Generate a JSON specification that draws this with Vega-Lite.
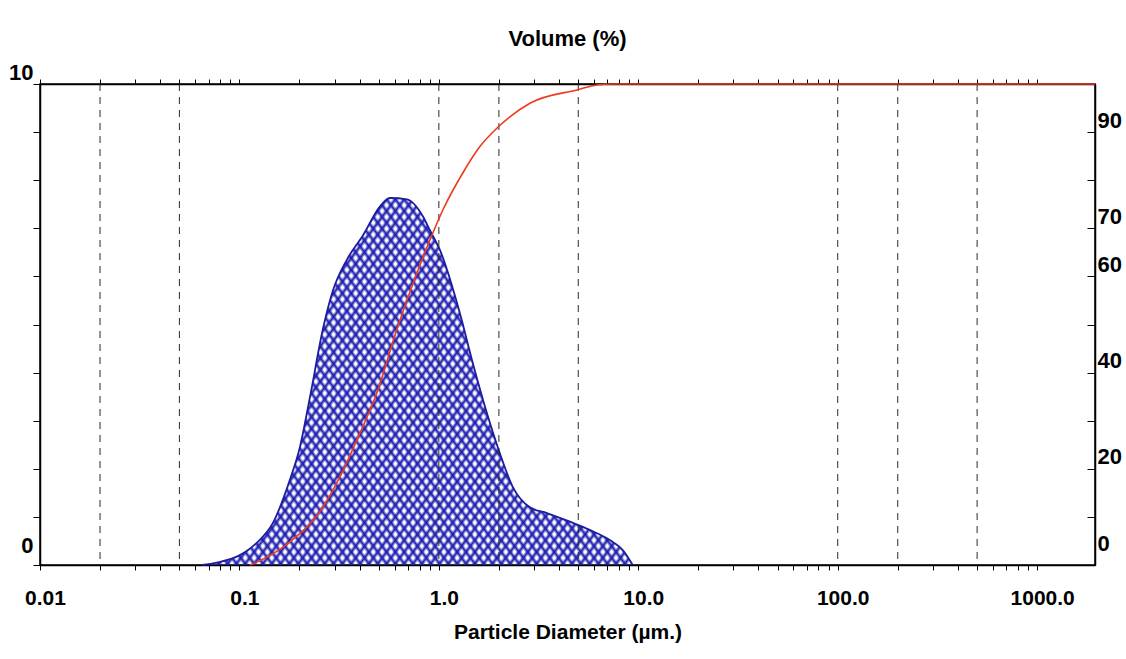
{
  "$schema": "https://vega.github.io/schema/vega-lite/v6.json",
  "width": 1055,
  "height": 481,
  "autosize": {"type": "none"},
  "padding": {"left": 40, "top": 84, "right": 31, "bottom": 94},
  "background": "white",
  "config": {
    "view": {"stroke": "black", "strokeWidth": 1.5},
    "font": "Liberation Sans",
    "axis": {"labelFont": "Liberation Sans", "titleFont": "Liberation Sans", "labelColor": "black", "titleColor": "black", "domainColor": "black", "tickColor": "black", "grid": false}
  },
  "title": {"text": "Volume (%)", "fontSize": 22, "fontWeight": "bold", "font": "Liberation Sans", "color": "black", "offset": 10},
  "datasets": {
    "dist": [
      {"d": 0.065, "v": 0}, {"d": 0.077, "v": 0.05}, {"d": 0.1, "v": 0.2}, {"d": 0.122, "v": 0.46},
      {"d": 0.147, "v": 0.87}, {"d": 0.179, "v": 1.77}, {"d": 0.201, "v": 2.45}, {"d": 0.226, "v": 3.5},
      {"d": 0.262, "v": 4.9}, {"d": 0.294, "v": 5.7}, {"d": 0.346, "v": 6.35}, {"d": 0.416, "v": 6.85},
      {"d": 0.506, "v": 7.45}, {"d": 0.568, "v": 7.63}, {"d": 0.692, "v": 7.6}, {"d": 0.831, "v": 7.25},
      {"d": 0.902, "v": 6.96}, {"d": 1.012, "v": 6.55}, {"d": 1.274, "v": 5.24}, {"d": 1.479, "v": 4.2},
      {"d": 1.741, "v": 3.16}, {"d": 2.02, "v": 2.33}, {"d": 2.35, "v": 1.62}, {"d": 2.86, "v": 1.2},
      {"d": 3.48, "v": 1.08}, {"d": 4.54, "v": 0.9}, {"d": 5.71, "v": 0.73}, {"d": 7.45, "v": 0.48},
      {"d": 8.36, "v": 0.31}, {"d": 9.06, "v": 0.1}, {"d": 9.38, "v": 0}
    ],
    "cum": [
      {"d": 0.113, "c": 0}, {"d": 0.1224, "c": 0.6}, {"d": 0.179, "c": 4.8}, {"d": 0.262, "c": 12},
      {"d": 0.319, "c": 18.3}, {"d": 0.388, "c": 26}, {"d": 0.489, "c": 35.8}, {"d": 0.615, "c": 48.9},
      {"d": 0.776, "c": 60.7}, {"d": 0.977, "c": 71}, {"d": 1.047, "c": 73.8}, {"d": 1.318, "c": 81.5},
      {"d": 1.606, "c": 87}, {"d": 1.977, "c": 91}, {"d": 2.86, "c": 96}, {"d": 4.97, "c": 98.8},
      {"d": 6.19, "c": 99.8}, {"d": 7.45, "c": 100}, {"d": 1950, "c": 100}
    ],
    "grid": [{"d": 0.02}, {"d": 0.05}, {"d": 1}, {"d": 2}, {"d": 5}, {"d": 100}, {"d": 200}, {"d": 500}]
  },
  "resolve": {"scale": {"y": "independent"}, "axis": {"x": "independent", "y": "independent"}},
  "layer": [
    {
      "data": {"name": "dist"},
      "mark": {"type": "area", "interpolate": "monotone", "fill": {"gradient": "linear", "x1": 0, "y1": 0, "x2": 1.1635, "y2": 0.7446, "stops": [
        {"offset":0,"color":"#1c1cb0"},{"offset":0.0045,"color":"rgba(28,28,176,0)"},{"offset":0.008,"color":"rgba(28,28,176,0)"},
        {"offset":0.0125,"color":"#1c1cb0"},{"offset":0.017,"color":"rgba(28,28,176,0)"},{"offset":0.0205,"color":"rgba(28,28,176,0)"},
        {"offset":0.025,"color":"#1c1cb0"},{"offset":0.0295,"color":"rgba(28,28,176,0)"},{"offset":0.033,"color":"rgba(28,28,176,0)"},
        {"offset":0.0375,"color":"#1c1cb0"},{"offset":0.042,"color":"rgba(28,28,176,0)"},{"offset":0.0455,"color":"rgba(28,28,176,0)"},
        {"offset":0.05,"color":"#1c1cb0"},{"offset":0.0545,"color":"rgba(28,28,176,0)"},{"offset":0.058,"color":"rgba(28,28,176,0)"},
        {"offset":0.0625,"color":"#1c1cb0"},{"offset":0.067,"color":"rgba(28,28,176,0)"},{"offset":0.0705,"color":"rgba(28,28,176,0)"},
        {"offset":0.075,"color":"#1c1cb0"},{"offset":0.0795,"color":"rgba(28,28,176,0)"},{"offset":0.083,"color":"rgba(28,28,176,0)"},
        {"offset":0.0875,"color":"#1c1cb0"},{"offset":0.092,"color":"rgba(28,28,176,0)"},{"offset":0.0955,"color":"rgba(28,28,176,0)"},
        {"offset":0.1,"color":"#1c1cb0"},{"offset":0.1045,"color":"rgba(28,28,176,0)"},{"offset":0.108,"color":"rgba(28,28,176,0)"},
        {"offset":0.1125,"color":"#1c1cb0"},{"offset":0.117,"color":"rgba(28,28,176,0)"},{"offset":0.1205,"color":"rgba(28,28,176,0)"},
        {"offset":0.125,"color":"#1c1cb0"},{"offset":0.1295,"color":"rgba(28,28,176,0)"},{"offset":0.133,"color":"rgba(28,28,176,0)"},
        {"offset":0.1375,"color":"#1c1cb0"},{"offset":0.142,"color":"rgba(28,28,176,0)"},{"offset":0.1455,"color":"rgba(28,28,176,0)"},
        {"offset":0.15,"color":"#1c1cb0"},{"offset":0.1545,"color":"rgba(28,28,176,0)"},{"offset":0.158,"color":"rgba(28,28,176,0)"},
        {"offset":0.1625,"color":"#1c1cb0"},{"offset":0.167,"color":"rgba(28,28,176,0)"},{"offset":0.1705,"color":"rgba(28,28,176,0)"},
        {"offset":0.175,"color":"#1c1cb0"},{"offset":0.1795,"color":"rgba(28,28,176,0)"},{"offset":0.183,"color":"rgba(28,28,176,0)"},
        {"offset":0.1875,"color":"#1c1cb0"},{"offset":0.192,"color":"rgba(28,28,176,0)"},{"offset":0.1955,"color":"rgba(28,28,176,0)"},
        {"offset":0.2,"color":"#1c1cb0"},{"offset":0.2045,"color":"rgba(28,28,176,0)"},{"offset":0.208,"color":"rgba(28,28,176,0)"},
        {"offset":0.2125,"color":"#1c1cb0"},{"offset":0.217,"color":"rgba(28,28,176,0)"},{"offset":0.2205,"color":"rgba(28,28,176,0)"},
        {"offset":0.225,"color":"#1c1cb0"},{"offset":0.2295,"color":"rgba(28,28,176,0)"},{"offset":0.233,"color":"rgba(28,28,176,0)"},
        {"offset":0.2375,"color":"#1c1cb0"},{"offset":0.242,"color":"rgba(28,28,176,0)"},{"offset":0.2455,"color":"rgba(28,28,176,0)"},
        {"offset":0.25,"color":"#1c1cb0"},{"offset":0.2545,"color":"rgba(28,28,176,0)"},{"offset":0.258,"color":"rgba(28,28,176,0)"},
        {"offset":0.2625,"color":"#1c1cb0"},{"offset":0.267,"color":"rgba(28,28,176,0)"},{"offset":0.2705,"color":"rgba(28,28,176,0)"},
        {"offset":0.275,"color":"#1c1cb0"},{"offset":0.2795,"color":"rgba(28,28,176,0)"},{"offset":0.283,"color":"rgba(28,28,176,0)"},
        {"offset":0.2875,"color":"#1c1cb0"},{"offset":0.292,"color":"rgba(28,28,176,0)"},{"offset":0.2955,"color":"rgba(28,28,176,0)"},
        {"offset":0.3,"color":"#1c1cb0"},{"offset":0.3045,"color":"rgba(28,28,176,0)"},{"offset":0.308,"color":"rgba(28,28,176,0)"},
        {"offset":0.3125,"color":"#1c1cb0"},{"offset":0.317,"color":"rgba(28,28,176,0)"},{"offset":0.3205,"color":"rgba(28,28,176,0)"},
        {"offset":0.325,"color":"#1c1cb0"},{"offset":0.3295,"color":"rgba(28,28,176,0)"},{"offset":0.333,"color":"rgba(28,28,176,0)"},
        {"offset":0.3375,"color":"#1c1cb0"},{"offset":0.342,"color":"rgba(28,28,176,0)"},{"offset":0.3455,"color":"rgba(28,28,176,0)"},
        {"offset":0.35,"color":"#1c1cb0"},{"offset":0.3545,"color":"rgba(28,28,176,0)"},{"offset":0.358,"color":"rgba(28,28,176,0)"},
        {"offset":0.3625,"color":"#1c1cb0"},{"offset":0.367,"color":"rgba(28,28,176,0)"},{"offset":0.3705,"color":"rgba(28,28,176,0)"},
        {"offset":0.375,"color":"#1c1cb0"},{"offset":0.3795,"color":"rgba(28,28,176,0)"},{"offset":0.383,"color":"rgba(28,28,176,0)"},
        {"offset":0.3875,"color":"#1c1cb0"},{"offset":0.392,"color":"rgba(28,28,176,0)"},{"offset":0.3955,"color":"rgba(28,28,176,0)"},
        {"offset":0.4,"color":"#1c1cb0"},{"offset":0.4045,"color":"rgba(28,28,176,0)"},{"offset":0.408,"color":"rgba(28,28,176,0)"},
        {"offset":0.4125,"color":"#1c1cb0"},{"offset":0.417,"color":"rgba(28,28,176,0)"},{"offset":0.4205,"color":"rgba(28,28,176,0)"},
        {"offset":0.425,"color":"#1c1cb0"},{"offset":0.4295,"color":"rgba(28,28,176,0)"},{"offset":0.433,"color":"rgba(28,28,176,0)"},
        {"offset":0.4375,"color":"#1c1cb0"},{"offset":0.442,"color":"rgba(28,28,176,0)"},{"offset":0.4455,"color":"rgba(28,28,176,0)"},
        {"offset":0.45,"color":"#1c1cb0"},{"offset":0.4545,"color":"rgba(28,28,176,0)"},{"offset":0.458,"color":"rgba(28,28,176,0)"},
        {"offset":0.4625,"color":"#1c1cb0"},{"offset":0.467,"color":"rgba(28,28,176,0)"},{"offset":0.4705,"color":"rgba(28,28,176,0)"},
        {"offset":0.475,"color":"#1c1cb0"},{"offset":0.4795,"color":"rgba(28,28,176,0)"},{"offset":0.483,"color":"rgba(28,28,176,0)"},
        {"offset":0.4875,"color":"#1c1cb0"},{"offset":0.492,"color":"rgba(28,28,176,0)"},{"offset":0.4955,"color":"rgba(28,28,176,0)"},
        {"offset":0.5,"color":"#1c1cb0"},{"offset":0.5045,"color":"rgba(28,28,176,0)"},{"offset":0.508,"color":"rgba(28,28,176,0)"},
        {"offset":0.5125,"color":"#1c1cb0"},{"offset":0.517,"color":"rgba(28,28,176,0)"},{"offset":0.5205,"color":"rgba(28,28,176,0)"},
        {"offset":0.525,"color":"#1c1cb0"},{"offset":0.5295,"color":"rgba(28,28,176,0)"},{"offset":0.533,"color":"rgba(28,28,176,0)"},
        {"offset":0.5375,"color":"#1c1cb0"},{"offset":0.542,"color":"rgba(28,28,176,0)"},{"offset":0.5455,"color":"rgba(28,28,176,0)"},
        {"offset":0.55,"color":"#1c1cb0"},{"offset":0.5545,"color":"rgba(28,28,176,0)"},{"offset":0.558,"color":"rgba(28,28,176,0)"},
        {"offset":0.5625,"color":"#1c1cb0"},{"offset":0.567,"color":"rgba(28,28,176,0)"},{"offset":0.5705,"color":"rgba(28,28,176,0)"},
        {"offset":0.575,"color":"#1c1cb0"},{"offset":0.5795,"color":"rgba(28,28,176,0)"},{"offset":0.583,"color":"rgba(28,28,176,0)"},
        {"offset":0.5875,"color":"#1c1cb0"},{"offset":0.592,"color":"rgba(28,28,176,0)"},{"offset":0.5955,"color":"rgba(28,28,176,0)"},
        {"offset":0.6,"color":"#1c1cb0"},{"offset":0.6045,"color":"rgba(28,28,176,0)"},{"offset":0.608,"color":"rgba(28,28,176,0)"},
        {"offset":0.6125,"color":"#1c1cb0"},{"offset":0.617,"color":"rgba(28,28,176,0)"},{"offset":0.6205,"color":"rgba(28,28,176,0)"},
        {"offset":0.625,"color":"#1c1cb0"},{"offset":0.6295,"color":"rgba(28,28,176,0)"},{"offset":0.633,"color":"rgba(28,28,176,0)"},
        {"offset":0.6375,"color":"#1c1cb0"},{"offset":0.642,"color":"rgba(28,28,176,0)"},{"offset":0.6455,"color":"rgba(28,28,176,0)"},
        {"offset":0.65,"color":"#1c1cb0"},{"offset":0.6545,"color":"rgba(28,28,176,0)"},{"offset":0.658,"color":"rgba(28,28,176,0)"},
        {"offset":0.6625,"color":"#1c1cb0"},{"offset":0.667,"color":"rgba(28,28,176,0)"},{"offset":0.6705,"color":"rgba(28,28,176,0)"},
        {"offset":0.675,"color":"#1c1cb0"},{"offset":0.6795,"color":"rgba(28,28,176,0)"},{"offset":0.683,"color":"rgba(28,28,176,0)"},
        {"offset":0.6875,"color":"#1c1cb0"},{"offset":0.692,"color":"rgba(28,28,176,0)"},{"offset":0.6955,"color":"rgba(28,28,176,0)"},
        {"offset":0.7,"color":"#1c1cb0"},{"offset":0.7045,"color":"rgba(28,28,176,0)"},{"offset":0.708,"color":"rgba(28,28,176,0)"},
        {"offset":0.7125,"color":"#1c1cb0"},{"offset":0.717,"color":"rgba(28,28,176,0)"},{"offset":0.7205,"color":"rgba(28,28,176,0)"},
        {"offset":0.725,"color":"#1c1cb0"},{"offset":0.7295,"color":"rgba(28,28,176,0)"},{"offset":0.733,"color":"rgba(28,28,176,0)"},
        {"offset":0.7375,"color":"#1c1cb0"},{"offset":0.742,"color":"rgba(28,28,176,0)"},{"offset":0.7455,"color":"rgba(28,28,176,0)"},
        {"offset":0.75,"color":"#1c1cb0"},{"offset":0.7545,"color":"rgba(28,28,176,0)"},{"offset":0.758,"color":"rgba(28,28,176,0)"},
        {"offset":0.7625,"color":"#1c1cb0"},{"offset":0.767,"color":"rgba(28,28,176,0)"},{"offset":0.7705,"color":"rgba(28,28,176,0)"},
        {"offset":0.775,"color":"#1c1cb0"},{"offset":0.7795,"color":"rgba(28,28,176,0)"},{"offset":0.783,"color":"rgba(28,28,176,0)"},
        {"offset":0.7875,"color":"#1c1cb0"},{"offset":0.792,"color":"rgba(28,28,176,0)"},{"offset":0.7955,"color":"rgba(28,28,176,0)"},
        {"offset":0.8,"color":"#1c1cb0"},{"offset":0.8045,"color":"rgba(28,28,176,0)"},{"offset":0.808,"color":"rgba(28,28,176,0)"},
        {"offset":0.8125,"color":"#1c1cb0"},{"offset":0.817,"color":"rgba(28,28,176,0)"},{"offset":0.8205,"color":"rgba(28,28,176,0)"},
        {"offset":0.825,"color":"#1c1cb0"},{"offset":0.8295,"color":"rgba(28,28,176,0)"},{"offset":0.833,"color":"rgba(28,28,176,0)"},
        {"offset":0.8375,"color":"#1c1cb0"},{"offset":0.842,"color":"rgba(28,28,176,0)"},{"offset":0.8455,"color":"rgba(28,28,176,0)"},
        {"offset":0.85,"color":"#1c1cb0"},{"offset":0.8545,"color":"rgba(28,28,176,0)"},{"offset":0.858,"color":"rgba(28,28,176,0)"},
        {"offset":0.8625,"color":"#1c1cb0"},{"offset":0.867,"color":"rgba(28,28,176,0)"},{"offset":0.8705,"color":"rgba(28,28,176,0)"},
        {"offset":0.875,"color":"#1c1cb0"},{"offset":0.8795,"color":"rgba(28,28,176,0)"},{"offset":0.883,"color":"rgba(28,28,176,0)"},
        {"offset":0.8875,"color":"#1c1cb0"},{"offset":0.892,"color":"rgba(28,28,176,0)"},{"offset":0.8955,"color":"rgba(28,28,176,0)"},
        {"offset":0.9,"color":"#1c1cb0"},{"offset":0.9045,"color":"rgba(28,28,176,0)"},{"offset":0.908,"color":"rgba(28,28,176,0)"},
        {"offset":0.9125,"color":"#1c1cb0"},{"offset":0.917,"color":"rgba(28,28,176,0)"},{"offset":0.9205,"color":"rgba(28,28,176,0)"},
        {"offset":0.925,"color":"#1c1cb0"},{"offset":0.9295,"color":"rgba(28,28,176,0)"},{"offset":0.933,"color":"rgba(28,28,176,0)"},
        {"offset":0.9375,"color":"#1c1cb0"},{"offset":0.942,"color":"rgba(28,28,176,0)"},{"offset":0.9455,"color":"rgba(28,28,176,0)"},
        {"offset":0.95,"color":"#1c1cb0"},{"offset":0.9545,"color":"rgba(28,28,176,0)"},{"offset":0.958,"color":"rgba(28,28,176,0)"},
        {"offset":0.9625,"color":"#1c1cb0"},{"offset":0.967,"color":"rgba(28,28,176,0)"},{"offset":0.9705,"color":"rgba(28,28,176,0)"},
        {"offset":0.975,"color":"#1c1cb0"},{"offset":0.9795,"color":"rgba(28,28,176,0)"},{"offset":0.983,"color":"rgba(28,28,176,0)"},
        {"offset":0.9875,"color":"#1c1cb0"},{"offset":0.992,"color":"rgba(28,28,176,0)"},{"offset":0.9955,"color":"rgba(28,28,176,0)"},
        {"offset":1,"color":"#1c1cb0"}
      ]}},
      "encoding": {
        "x": {"field": "d", "type": "quantitative", "scale": {"type": "log", "domain": [0.01, 1950]},
          "axis": {"orient": "bottom", "values": [0.01,0.02,0.03,0.04,0.05,0.06,0.07,0.08,0.09,0.1,0.2,0.3,0.4,0.5,0.6,0.7,0.8,0.9,1,2,3,4,5,6,7,8,9,10,20,30,40,50,60,70,80,90,100,200,300,400,500,600,700,800,900,1000],
            "labelExpr": "datum.value == 0.01 ? '0.01' : datum.value == 0.1 ? '0.1' : datum.value == 1 ? '1.0' : datum.value == 10 ? '10.0' : datum.value == 100 ? '100.0' : datum.value == 1000 ? '1000.0' : ''",
            "labelOverlap": false, "labelFlush": false, "labelFontSize": 21, "labelFontWeight": "bold", "labelOffset": 5, "labelPadding": 17, "tickSize": 5, "domainWidth": 1.5,
            "title": "Particle Diameter (µm.)", "titleFontSize": 21, "titleFontWeight": "bold", "titlePadding": 13}},
        "y": {"field": "v", "type": "quantitative", "scale": {"domain": [0, 10], "nice": false},
          "axis": {"orient": "left", "values": [0,1,2,3,4,5,6,7,8,9,10], "labelExpr": "datum.value == 0 || datum.value == 10 ? datum.label : ''",
            "labelFontSize": 22, "labelFontWeight": "bold", "labelPadding": 0, "tickSize": 7, "title": null, "domainWidth": 1.5,
            "labelOffset": {"condition": {"test": "datum.value == 0", "value": -20}, "value": -12}}}
      }
    },
    {
      "data": {"name": "dist"},
      "mark": {"type": "area", "interpolate": "monotone", "fill": {"gradient": "linear", "x1": 0, "y1": 1, "x2": 1.1635, "y2": 0.2554, "stops": [
        {"offset":0,"color":"#1c1cb0"},{"offset":0.0045,"color":"rgba(28,28,176,0)"},{"offset":0.008,"color":"rgba(28,28,176,0)"},
        {"offset":0.0125,"color":"#1c1cb0"},{"offset":0.017,"color":"rgba(28,28,176,0)"},{"offset":0.0205,"color":"rgba(28,28,176,0)"},
        {"offset":0.025,"color":"#1c1cb0"},{"offset":0.0295,"color":"rgba(28,28,176,0)"},{"offset":0.033,"color":"rgba(28,28,176,0)"},
        {"offset":0.0375,"color":"#1c1cb0"},{"offset":0.042,"color":"rgba(28,28,176,0)"},{"offset":0.0455,"color":"rgba(28,28,176,0)"},
        {"offset":0.05,"color":"#1c1cb0"},{"offset":0.0545,"color":"rgba(28,28,176,0)"},{"offset":0.058,"color":"rgba(28,28,176,0)"},
        {"offset":0.0625,"color":"#1c1cb0"},{"offset":0.067,"color":"rgba(28,28,176,0)"},{"offset":0.0705,"color":"rgba(28,28,176,0)"},
        {"offset":0.075,"color":"#1c1cb0"},{"offset":0.0795,"color":"rgba(28,28,176,0)"},{"offset":0.083,"color":"rgba(28,28,176,0)"},
        {"offset":0.0875,"color":"#1c1cb0"},{"offset":0.092,"color":"rgba(28,28,176,0)"},{"offset":0.0955,"color":"rgba(28,28,176,0)"},
        {"offset":0.1,"color":"#1c1cb0"},{"offset":0.1045,"color":"rgba(28,28,176,0)"},{"offset":0.108,"color":"rgba(28,28,176,0)"},
        {"offset":0.1125,"color":"#1c1cb0"},{"offset":0.117,"color":"rgba(28,28,176,0)"},{"offset":0.1205,"color":"rgba(28,28,176,0)"},
        {"offset":0.125,"color":"#1c1cb0"},{"offset":0.1295,"color":"rgba(28,28,176,0)"},{"offset":0.133,"color":"rgba(28,28,176,0)"},
        {"offset":0.1375,"color":"#1c1cb0"},{"offset":0.142,"color":"rgba(28,28,176,0)"},{"offset":0.1455,"color":"rgba(28,28,176,0)"},
        {"offset":0.15,"color":"#1c1cb0"},{"offset":0.1545,"color":"rgba(28,28,176,0)"},{"offset":0.158,"color":"rgba(28,28,176,0)"},
        {"offset":0.1625,"color":"#1c1cb0"},{"offset":0.167,"color":"rgba(28,28,176,0)"},{"offset":0.1705,"color":"rgba(28,28,176,0)"},
        {"offset":0.175,"color":"#1c1cb0"},{"offset":0.1795,"color":"rgba(28,28,176,0)"},{"offset":0.183,"color":"rgba(28,28,176,0)"},
        {"offset":0.1875,"color":"#1c1cb0"},{"offset":0.192,"color":"rgba(28,28,176,0)"},{"offset":0.1955,"color":"rgba(28,28,176,0)"},
        {"offset":0.2,"color":"#1c1cb0"},{"offset":0.2045,"color":"rgba(28,28,176,0)"},{"offset":0.208,"color":"rgba(28,28,176,0)"},
        {"offset":0.2125,"color":"#1c1cb0"},{"offset":0.217,"color":"rgba(28,28,176,0)"},{"offset":0.2205,"color":"rgba(28,28,176,0)"},
        {"offset":0.225,"color":"#1c1cb0"},{"offset":0.2295,"color":"rgba(28,28,176,0)"},{"offset":0.233,"color":"rgba(28,28,176,0)"},
        {"offset":0.2375,"color":"#1c1cb0"},{"offset":0.242,"color":"rgba(28,28,176,0)"},{"offset":0.2455,"color":"rgba(28,28,176,0)"},
        {"offset":0.25,"color":"#1c1cb0"},{"offset":0.2545,"color":"rgba(28,28,176,0)"},{"offset":0.258,"color":"rgba(28,28,176,0)"},
        {"offset":0.2625,"color":"#1c1cb0"},{"offset":0.267,"color":"rgba(28,28,176,0)"},{"offset":0.2705,"color":"rgba(28,28,176,0)"},
        {"offset":0.275,"color":"#1c1cb0"},{"offset":0.2795,"color":"rgba(28,28,176,0)"},{"offset":0.283,"color":"rgba(28,28,176,0)"},
        {"offset":0.2875,"color":"#1c1cb0"},{"offset":0.292,"color":"rgba(28,28,176,0)"},{"offset":0.2955,"color":"rgba(28,28,176,0)"},
        {"offset":0.3,"color":"#1c1cb0"},{"offset":0.3045,"color":"rgba(28,28,176,0)"},{"offset":0.308,"color":"rgba(28,28,176,0)"},
        {"offset":0.3125,"color":"#1c1cb0"},{"offset":0.317,"color":"rgba(28,28,176,0)"},{"offset":0.3205,"color":"rgba(28,28,176,0)"},
        {"offset":0.325,"color":"#1c1cb0"},{"offset":0.3295,"color":"rgba(28,28,176,0)"},{"offset":0.333,"color":"rgba(28,28,176,0)"},
        {"offset":0.3375,"color":"#1c1cb0"},{"offset":0.342,"color":"rgba(28,28,176,0)"},{"offset":0.3455,"color":"rgba(28,28,176,0)"},
        {"offset":0.35,"color":"#1c1cb0"},{"offset":0.3545,"color":"rgba(28,28,176,0)"},{"offset":0.358,"color":"rgba(28,28,176,0)"},
        {"offset":0.3625,"color":"#1c1cb0"},{"offset":0.367,"color":"rgba(28,28,176,0)"},{"offset":0.3705,"color":"rgba(28,28,176,0)"},
        {"offset":0.375,"color":"#1c1cb0"},{"offset":0.3795,"color":"rgba(28,28,176,0)"},{"offset":0.383,"color":"rgba(28,28,176,0)"},
        {"offset":0.3875,"color":"#1c1cb0"},{"offset":0.392,"color":"rgba(28,28,176,0)"},{"offset":0.3955,"color":"rgba(28,28,176,0)"},
        {"offset":0.4,"color":"#1c1cb0"},{"offset":0.4045,"color":"rgba(28,28,176,0)"},{"offset":0.408,"color":"rgba(28,28,176,0)"},
        {"offset":0.4125,"color":"#1c1cb0"},{"offset":0.417,"color":"rgba(28,28,176,0)"},{"offset":0.4205,"color":"rgba(28,28,176,0)"},
        {"offset":0.425,"color":"#1c1cb0"},{"offset":0.4295,"color":"rgba(28,28,176,0)"},{"offset":0.433,"color":"rgba(28,28,176,0)"},
        {"offset":0.4375,"color":"#1c1cb0"},{"offset":0.442,"color":"rgba(28,28,176,0)"},{"offset":0.4455,"color":"rgba(28,28,176,0)"},
        {"offset":0.45,"color":"#1c1cb0"},{"offset":0.4545,"color":"rgba(28,28,176,0)"},{"offset":0.458,"color":"rgba(28,28,176,0)"},
        {"offset":0.4625,"color":"#1c1cb0"},{"offset":0.467,"color":"rgba(28,28,176,0)"},{"offset":0.4705,"color":"rgba(28,28,176,0)"},
        {"offset":0.475,"color":"#1c1cb0"},{"offset":0.4795,"color":"rgba(28,28,176,0)"},{"offset":0.483,"color":"rgba(28,28,176,0)"},
        {"offset":0.4875,"color":"#1c1cb0"},{"offset":0.492,"color":"rgba(28,28,176,0)"},{"offset":0.4955,"color":"rgba(28,28,176,0)"},
        {"offset":0.5,"color":"#1c1cb0"},{"offset":0.5045,"color":"rgba(28,28,176,0)"},{"offset":0.508,"color":"rgba(28,28,176,0)"},
        {"offset":0.5125,"color":"#1c1cb0"},{"offset":0.517,"color":"rgba(28,28,176,0)"},{"offset":0.5205,"color":"rgba(28,28,176,0)"},
        {"offset":0.525,"color":"#1c1cb0"},{"offset":0.5295,"color":"rgba(28,28,176,0)"},{"offset":0.533,"color":"rgba(28,28,176,0)"},
        {"offset":0.5375,"color":"#1c1cb0"},{"offset":0.542,"color":"rgba(28,28,176,0)"},{"offset":0.5455,"color":"rgba(28,28,176,0)"},
        {"offset":0.55,"color":"#1c1cb0"},{"offset":0.5545,"color":"rgba(28,28,176,0)"},{"offset":0.558,"color":"rgba(28,28,176,0)"},
        {"offset":0.5625,"color":"#1c1cb0"},{"offset":0.567,"color":"rgba(28,28,176,0)"},{"offset":0.5705,"color":"rgba(28,28,176,0)"},
        {"offset":0.575,"color":"#1c1cb0"},{"offset":0.5795,"color":"rgba(28,28,176,0)"},{"offset":0.583,"color":"rgba(28,28,176,0)"},
        {"offset":0.5875,"color":"#1c1cb0"},{"offset":0.592,"color":"rgba(28,28,176,0)"},{"offset":0.5955,"color":"rgba(28,28,176,0)"},
        {"offset":0.6,"color":"#1c1cb0"},{"offset":0.6045,"color":"rgba(28,28,176,0)"},{"offset":0.608,"color":"rgba(28,28,176,0)"},
        {"offset":0.6125,"color":"#1c1cb0"},{"offset":0.617,"color":"rgba(28,28,176,0)"},{"offset":0.6205,"color":"rgba(28,28,176,0)"},
        {"offset":0.625,"color":"#1c1cb0"},{"offset":0.6295,"color":"rgba(28,28,176,0)"},{"offset":0.633,"color":"rgba(28,28,176,0)"},
        {"offset":0.6375,"color":"#1c1cb0"},{"offset":0.642,"color":"rgba(28,28,176,0)"},{"offset":0.6455,"color":"rgba(28,28,176,0)"},
        {"offset":0.65,"color":"#1c1cb0"},{"offset":0.6545,"color":"rgba(28,28,176,0)"},{"offset":0.658,"color":"rgba(28,28,176,0)"},
        {"offset":0.6625,"color":"#1c1cb0"},{"offset":0.667,"color":"rgba(28,28,176,0)"},{"offset":0.6705,"color":"rgba(28,28,176,0)"},
        {"offset":0.675,"color":"#1c1cb0"},{"offset":0.6795,"color":"rgba(28,28,176,0)"},{"offset":0.683,"color":"rgba(28,28,176,0)"},
        {"offset":0.6875,"color":"#1c1cb0"},{"offset":0.692,"color":"rgba(28,28,176,0)"},{"offset":0.6955,"color":"rgba(28,28,176,0)"},
        {"offset":0.7,"color":"#1c1cb0"},{"offset":0.7045,"color":"rgba(28,28,176,0)"},{"offset":0.708,"color":"rgba(28,28,176,0)"},
        {"offset":0.7125,"color":"#1c1cb0"},{"offset":0.717,"color":"rgba(28,28,176,0)"},{"offset":0.7205,"color":"rgba(28,28,176,0)"},
        {"offset":0.725,"color":"#1c1cb0"},{"offset":0.7295,"color":"rgba(28,28,176,0)"},{"offset":0.733,"color":"rgba(28,28,176,0)"},
        {"offset":0.7375,"color":"#1c1cb0"},{"offset":0.742,"color":"rgba(28,28,176,0)"},{"offset":0.7455,"color":"rgba(28,28,176,0)"},
        {"offset":0.75,"color":"#1c1cb0"},{"offset":0.7545,"color":"rgba(28,28,176,0)"},{"offset":0.758,"color":"rgba(28,28,176,0)"},
        {"offset":0.7625,"color":"#1c1cb0"},{"offset":0.767,"color":"rgba(28,28,176,0)"},{"offset":0.7705,"color":"rgba(28,28,176,0)"},
        {"offset":0.775,"color":"#1c1cb0"},{"offset":0.7795,"color":"rgba(28,28,176,0)"},{"offset":0.783,"color":"rgba(28,28,176,0)"},
        {"offset":0.7875,"color":"#1c1cb0"},{"offset":0.792,"color":"rgba(28,28,176,0)"},{"offset":0.7955,"color":"rgba(28,28,176,0)"},
        {"offset":0.8,"color":"#1c1cb0"},{"offset":0.8045,"color":"rgba(28,28,176,0)"},{"offset":0.808,"color":"rgba(28,28,176,0)"},
        {"offset":0.8125,"color":"#1c1cb0"},{"offset":0.817,"color":"rgba(28,28,176,0)"},{"offset":0.8205,"color":"rgba(28,28,176,0)"},
        {"offset":0.825,"color":"#1c1cb0"},{"offset":0.8295,"color":"rgba(28,28,176,0)"},{"offset":0.833,"color":"rgba(28,28,176,0)"},
        {"offset":0.8375,"color":"#1c1cb0"},{"offset":0.842,"color":"rgba(28,28,176,0)"},{"offset":0.8455,"color":"rgba(28,28,176,0)"},
        {"offset":0.85,"color":"#1c1cb0"},{"offset":0.8545,"color":"rgba(28,28,176,0)"},{"offset":0.858,"color":"rgba(28,28,176,0)"},
        {"offset":0.8625,"color":"#1c1cb0"},{"offset":0.867,"color":"rgba(28,28,176,0)"},{"offset":0.8705,"color":"rgba(28,28,176,0)"},
        {"offset":0.875,"color":"#1c1cb0"},{"offset":0.8795,"color":"rgba(28,28,176,0)"},{"offset":0.883,"color":"rgba(28,28,176,0)"},
        {"offset":0.8875,"color":"#1c1cb0"},{"offset":0.892,"color":"rgba(28,28,176,0)"},{"offset":0.8955,"color":"rgba(28,28,176,0)"},
        {"offset":0.9,"color":"#1c1cb0"},{"offset":0.9045,"color":"rgba(28,28,176,0)"},{"offset":0.908,"color":"rgba(28,28,176,0)"},
        {"offset":0.9125,"color":"#1c1cb0"},{"offset":0.917,"color":"rgba(28,28,176,0)"},{"offset":0.9205,"color":"rgba(28,28,176,0)"},
        {"offset":0.925,"color":"#1c1cb0"},{"offset":0.9295,"color":"rgba(28,28,176,0)"},{"offset":0.933,"color":"rgba(28,28,176,0)"},
        {"offset":0.9375,"color":"#1c1cb0"},{"offset":0.942,"color":"rgba(28,28,176,0)"},{"offset":0.9455,"color":"rgba(28,28,176,0)"},
        {"offset":0.95,"color":"#1c1cb0"},{"offset":0.9545,"color":"rgba(28,28,176,0)"},{"offset":0.958,"color":"rgba(28,28,176,0)"},
        {"offset":0.9625,"color":"#1c1cb0"},{"offset":0.967,"color":"rgba(28,28,176,0)"},{"offset":0.9705,"color":"rgba(28,28,176,0)"},
        {"offset":0.975,"color":"#1c1cb0"},{"offset":0.9795,"color":"rgba(28,28,176,0)"},{"offset":0.983,"color":"rgba(28,28,176,0)"},
        {"offset":0.9875,"color":"#1c1cb0"},{"offset":0.992,"color":"rgba(28,28,176,0)"},{"offset":0.9955,"color":"rgba(28,28,176,0)"},
        {"offset":1,"color":"#1c1cb0"}
      ]}},
      "encoding": {
        "x": {"field": "d", "type": "quantitative", "scale": {"type": "log", "domain": [0.01, 1950]}, "axis": null},
        "y": {"field": "v", "type": "quantitative", "scale": {"domain": [0, 10], "nice": false}, "axis": null}
      }
    },
    {
      "data": {"name": "dist"},
      "mark": {"type": "line", "interpolate": "monotone", "color": "#1c1ca0", "strokeWidth": 1.8},
      "encoding": {
        "x": {"field": "d", "type": "quantitative", "scale": {"type": "log", "domain": [0.01, 1950]}, "axis": null},
        "y": {"field": "v", "type": "quantitative", "scale": {"domain": [0, 10], "nice": false}, "axis": null}
      }
    },
    {
      "data": {"name": "grid"},
      "mark": {"type": "rule", "color": "#2a2a2a", "strokeWidth": 1, "strokeDash": [7, 6]},
      "encoding": {
        "x": {"field": "d", "type": "quantitative", "scale": {"type": "log", "domain": [0.01, 1950]}, "axis": null}
      }
    },
    {
      "data": {"name": "cum"},
      "mark": {"type": "line", "interpolate": "monotone", "color": "#ee3a1c", "strokeWidth": 1.6},
      "encoding": {
        "x": {"field": "d", "type": "quantitative", "scale": {"type": "log", "domain": [0.01, 1950]},
          "axis": {"orient": "top", "values": [0.01,0.02,0.03,0.04,0.05,0.06,0.07,0.08,0.09,0.1,0.2,0.3,0.4,0.5,0.6,0.7,0.8,0.9,1,2,3,4,5,6,7,8,9,10,20,30,40,50,60,70,80,90,100,200,300,400,500,600,700,800,900,1000],
            "labels": false, "tickSize": 5, "title": null, "domainWidth": 1.5}},
        "y": {"field": "c", "type": "quantitative", "scale": {"domain": [0, 100], "nice": false},
          "axis": {"orient": "right", "values": [0,10,20,30,40,50,60,70,80,90,100],
            "labelExpr": "indexof([0,20,40,60,70,90], datum.value) >= 0 ? datum.label : ''",
            "labelFontSize": 22, "labelFontWeight": "bold", "tickSize": -8, "labelPadding": 10, "title": null, "domainWidth": 1.5,
            "labelOffset": {"condition": {"test": "datum.value == 0", "value": -22}, "value": -12}}}
      }
    }
  ]
}
